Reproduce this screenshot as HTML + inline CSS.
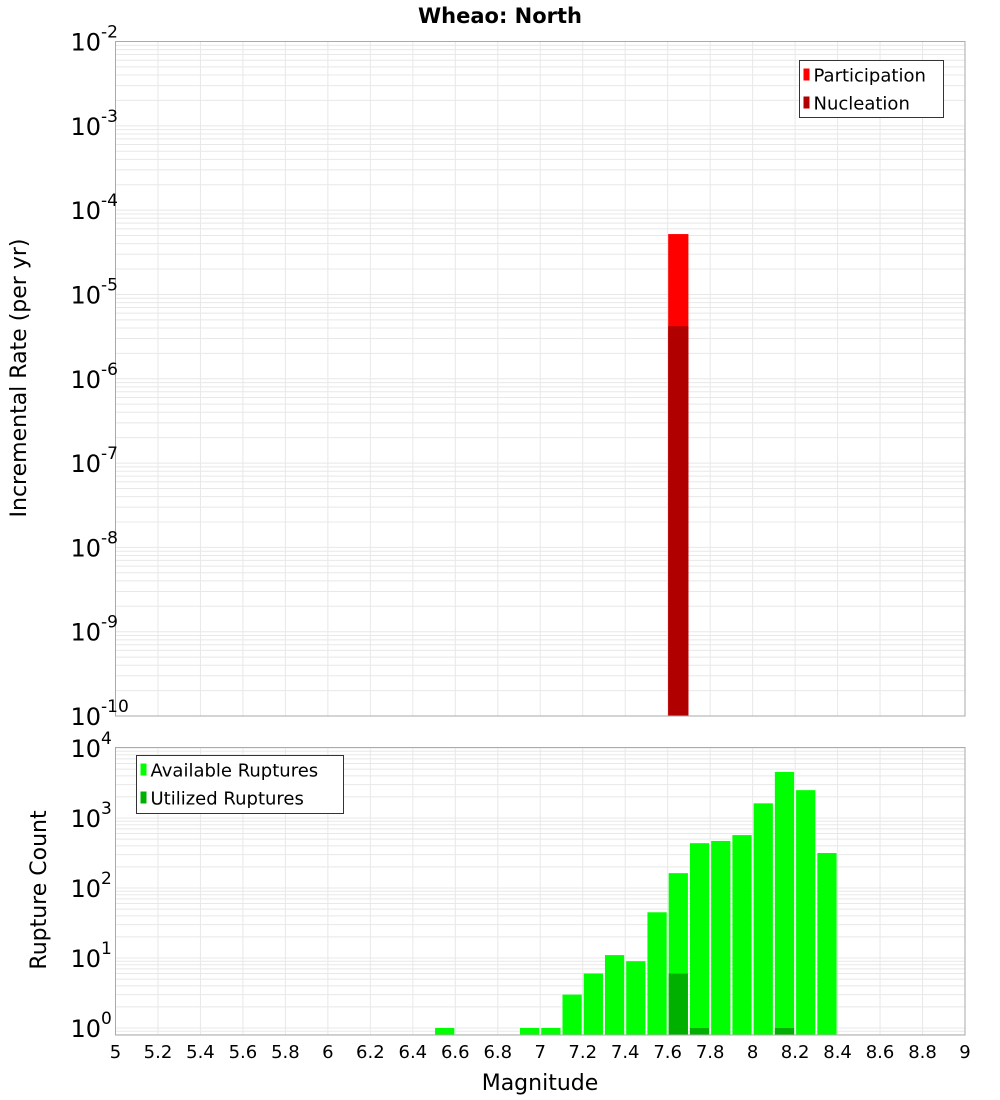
<!DOCTYPE html>
<html><head><meta charset="utf-8"><style>
body{margin:0;background:#fff;}
svg{display:block;font-family:"DejaVu Sans","Liberation Sans",sans-serif;}
</style></head><body>
<svg id="chart" width="1000" height="1100" xmlns="http://www.w3.org/2000/svg"></svg>
<script>
// Top panel data
const topMags = [7.65];
const participation = [5.2e-5];
const nucleation = [4.2e-6];
const topYTicks = [-10,-9,-8,-7,-6,-5,-4,-3,-2];
// Bottom panel data
const botMags = [6.55,6.95,7.05,7.15,7.25,7.35,7.45,7.55,7.65,7.75,7.85,7.95,8.05,8.15,8.25,8.35];
const available = [1,1,1,3,6,11,9,45,163,437,470,570,1620,4550,2500,316];
const utilMags = [7.65,7.75,8.15];
const utilized = [6,1,1];
const botYTicks = [0,1,2,3,4];
const xTicks = ["5","5.2","5.4","5.6","5.8","6","6.2","6.4","6.6","6.8","7","7.2","7.4","7.6","7.8","8","8.2","8.4","8.6","8.8","9"];

const NS="http://www.w3.org/2000/svg";
const svg=document.getElementById('chart');
function mk(tag,attrs,parent){const e=document.createElementNS(NS,tag);for(const k in attrs)e.setAttribute(k,attrs[k]);(parent||svg).appendChild(e);return e;}
const L=115.5,R=965;
const X=m=>L+(m-5)*(R-L)/4;
const T0=41.5,T1=716;
const yTop=v=>T0+(-2-Math.log10(v))*(T1-T0)/8;
const B0=747.5,B1=1035;
const dec=70;
const yBot=v=>748+(4-Math.log10(v))*dec;

// title
let t=mk('text',{x:500,y:23,'text-anchor':'middle','font-size':21,'font-weight':'bold'});
t.textContent='Wheao: North';



function panel(y0,y1,ymap,ticksExp,name){
  const g=mk('g',{});
  
  
  for(const e of ticksExp){
    for(let k=1;k<10;k++){
      const v=k*Math.pow(10,e);const y=ymap(v);
      if(y<y0||y>y1)continue;
      mk('line',{x1:L,x2:R,y1:y,y2:y,stroke:'#e8e8e8','stroke-width':1},g);
    }
  }
  for(let e=ticksExp[0]-1;e<ticksExp[0];e++){for(let k=1;k<10;k++){const y=ymap(k*Math.pow(10,e));if(y>y0&&y<y1)mk('line',{x1:L,x2:R,y1:y,y2:y,stroke:'#e8e8e8'},g);}}
  for(let i=0;i<xTicks.length;i++){const x=X(+xTicks[i]);mk('line',{x1:x,x2:x,y1:y0,y2:y1,stroke:'#e8e8e8'},g);}
}
panel(T0,T1,yTop,topYTicks,'top-panel');
panel(B0,B1,yBot,botYTicks,'bottom-panel');

// top bars
const bw=(X(5.1)-X(5));
topMags.forEach((m,i)=>{
  let r=mk('rect',{x:X(m)-bw/2+0.5,y:yTop(participation[i]),width:bw-1,height:T1-yTop(participation[i]),fill:'#ff0000'});
  
  
  r=mk('rect',{x:X(m)-bw/2+0.5,y:yTop(nucleation[i]),width:bw-1,height:T1-yTop(nucleation[i]),fill:'#b00000'});
  
  
});
// bottom bars
botMags.forEach((m,i)=>{
  const y=yBot(available[i]);
  const r=mk('rect',{x:X(m)-bw/2+1,y:y,width:bw-2,height:B1-y,fill:'#00ff00'});
  
  
});
utilMags.forEach((m,i)=>{
  const y=yBot(utilized[i]);
  const r=mk('rect',{x:X(m)-bw/2+1,y:y,width:bw-2,height:B1-y,fill:'#00b000'});
  
  
});

// frames
let f=mk('rect',{x:L,y:T0,width:R-L,height:T1-T0,fill:'none',stroke:'#aaa'});


f=mk('rect',{x:L,y:B0,width:R-L,height:B1-B0,fill:'none',stroke:'#aaa'});



// y tick labels
function ylab(y,exp,name){
  const tx=mk('text',{x:101,y:y+9,'text-anchor':'end','font-size':24});
  tx.textContent='10';
  
  
  const s=mk('text',{x:101,y:y-4,'font-size':17});
  s.textContent=String(exp);
  
  
}
topYTicks.forEach(e=>ylab(yTop(Math.pow(10,e)),e,'top-y-tick-label'));
botYTicks.forEach(e=>ylab(yBot(Math.pow(10,e)),e,'bottom-y-tick-label'));

// x tick labels
xTicks.forEach(v=>{
  const tx=mk('text',{x:X(+v),y:1058,'text-anchor':'middle','font-size':18});
  tx.textContent=v;
  
  
});

// axis titles
t=mk('text',{x:540,y:1090,'text-anchor':'middle','font-size':22});
t.textContent='Magnitude';


t=mk('text',{x:0,y:0,'text-anchor':'middle','font-size':22,transform:'translate(26,378) rotate(-90)'});
t.textContent='Incremental Rate (per yr)';


t=mk('text',{x:0,y:0,'text-anchor':'middle','font-size':22,transform:'translate(46,890) rotate(-90)'});
t.textContent='Rupture Count';



// legends
function legend(x,y,w,h,items,name){
  const g=mk('g',{});
  
  
  mk('rect',{x:x,y:y,width:w,height:h,fill:'#fff',stroke:'#333'},g);
  items.forEach((it,i)=>{
    const cy=y+14+i*28;
    mk('rect',{x:x+4,y:cy-6,width:6,height:12,fill:it[1]},g);
    const tx=mk('text',{x:x+14,y:cy+7,'font-size':18},g);
    tx.textContent=it[0];
    
    
  });
}
legend(799.5,60.5,144,57,[['Participation','#ff0000'],['Nucleation','#b00000']],'top-legend');
legend(136.5,755.5,207,58,[['Available Ruptures','#00ff00'],['Utilized Ruptures','#00b000']],'bottom-legend');
</script>
</body></html>
